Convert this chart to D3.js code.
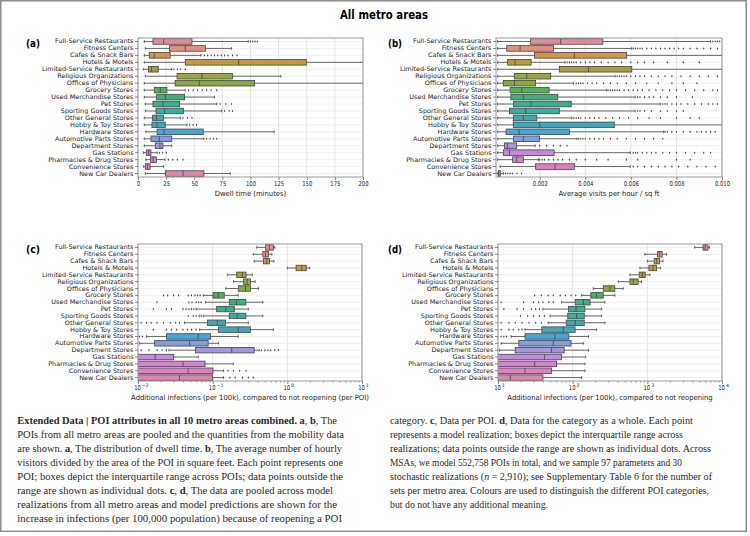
<!DOCTYPE html>
<html>
<head>
<meta charset="utf-8">
<script src="https://cdn.jsdelivr.net/npm/d3@7"></script>
<style>
body { margin: 0; background: #fff; }
svg { display: block; }
</style>
</head>
<body>
<svg id="chart" width="750" height="536"></svg>
<script>
// categories, top to bottom
var categories = ["Full-Service Restaurants", "Fitness Centers", "Cafes & Snack Bars", "Hotels & Motels",
    "Limited-Service Restaurants", "Religious Organizations", "Offices of Physicians", "Grocery Stores",
    "Used Merchandise Stores", "Pet Stores", "Sporting Goods Stores", "Other General Stores",
    "Hobby & Toy Stores", "Hardware Stores", "Automotive Parts Stores", "Department Stores",
    "Gas Stations", "Pharmacies & Drug Stores", "Convenience Stores", "New Car Dealers"];

var palette = ["#e08a9b", "#e3917c", "#d6944a", "#c09a3c", "#a89d38", "#98a83e", "#85ab3f", "#4db359",
    "#3db07e", "#3aae92", "#3aad9c", "#3aabaa", "#3da9b8", "#48a5d6", "#7f9de0", "#a594e0",
    "#c788df", "#dd7ed6", "#df7fc2", "#df85ac"];

// box stats: [low whisker, q1, median, q3, high whisker]
// (a) dwell time, minutes
var dwellStats = [
    [5.6, 13.3, 22.8, 48, 98], [6.5, 28, 42, 60, 83], [5.6, 10, 14.5, 28.6, 56], [5.6, 42, 89.5, 149.6, 260],
    [5, 9.3, 11.9, 18, 30], [6.5, 34.7, 56.9, 84, 127], [5.6, 33, 54.5, 103.7, 260], [5.6, 14.5, 19.8, 25.7, 42],
    [5.6, 16.3, 24.3, 41.5, 68], [6.5, 13.3, 22.2, 37, 70], [6.5, 16, 23.7, 40.5, 74.5], [5.6, 13, 16.3, 22.7, 37.5],
    [5.6, 12.4, 16.9, 24.2, 43.5], [7, 17, 23, 58, 121], [5.6, 11.5, 19, 30, 58.6], [5.6, 15.4, 19.5, 22.2, 30],
    [5, 7.4, 9.5, 11.5, 17], [7, 11, 13.5, 16.5, 24], [5, 6.5, 8.5, 10.8, 22.7], [6.5, 24.5, 40, 58.6, 82]];
var dwellFliers = [
    [100, 102, 104, 106], [], [59, 62, 65, 68, 71, 74, 77, 80, 84, 88], [],
    [32, 35, 38, 42], [], [], [45, 49, 53, 57, 61, 65, 70],
    [], [73, 78, 83], [77, 81, 84], [40, 44, 48],
    [46, 49, 52], [], [61, 64, 67, 70], [],
    [19, 22, 25], [27, 31, 35, 40], [], []];
var dwellTicks = [0, 25, 50, 75, 100, 125, 150, 175, 200];

// (b) average visits per hour / sq ft, in thousandths
var visitStats = [
    [0.15, 1.59, 2.92, 4.77, 9.5], [0.15, 0.55, 1.14, 2.6, 6.04], [0.15, 1.77, 3.52, 5.82, 12], [0.15, 0.59, 0.92, 1.62, 3.11],
    [0.15, 2.86, 4.14, 6.04, 12], [0.15, 0.89, 1.43, 2.48, 5.31], [0.15, 0.4, 0.89, 1.82, 3.48], [0.15, 0.7, 1.21, 2.41, 4.94],
    [0.15, 0.73, 1.28, 2.79, 6.19], [0.15, 0.84, 1.62, 3.38, 7.29], [0.15, 0.67, 1.38, 2.86, 6.19], [0.15, 0.84, 1.28, 1.87, 3.41],
    [0.15, 0.84, 2.0, 5.27, 12], [0.15, 0.52, 1.09, 3.3, 7.44], [0.15, 0.84, 1.28, 1.99, 3.63], [0.15, 0.45, 0.58, 0.99, 1.8],
    [0.15, 0.4, 0.67, 2.63, 5.97], [0.15, 0.81, 0.99, 1.28, 1.94], [0.26, 1.82, 2.67, 3.52, 5.97], [0.12, 0.18, 0.2, 0.27, 0.4]];
var visitFliers = [
    [9.6, 9.7, 9.8, 9.9],
    [6.1, 6.2, 6.3, 6.4, 6.5, 6.7, 6.9, 7.1, 7.3, 7.5, 7.7, 7.9, 8.1, 8.3, 8.6, 8.9, 9.2, 9.5, 9.8],
    [],
    [3.2, 3.3, 3.4, 3.5, 3.6, 3.8, 4.0, 4.2, 4.4, 4.7, 5.0, 5.3, 5.6, 6.0, 6.3, 6.6, 7.0, 7.6, 8.3, 9.0],
    [],
    [5.4, 5.5, 5.6, 5.7, 5.8, 6.0, 6.2, 6.4, 6.6, 6.9, 7.2, 7.5, 7.8, 8.2, 8.6, 9.0, 9.4, 9.8],
    [3.6, 3.7, 3.8, 3.9, 4.1, 4.3, 4.5, 4.8, 5.1, 5.4, 5.8, 6.2, 6.7, 7.2, 7.8, 8.3, 8.9],
    [5.0, 5.1, 5.2, 5.3, 5.4, 5.5, 5.7, 5.9, 6.1, 6.3, 6.5, 6.8, 7.1, 7.4, 7.7, 8.0, 8.4, 8.8, 9.2, 9.6, 9.8],
    [6.3, 6.4, 6.6, 6.8, 7.0, 7.3, 7.6, 8.0, 8.7],
    [7.4, 7.5, 7.6, 7.8, 8.0, 8.2, 8.5, 8.8, 9.1, 9.4, 9.6, 9.8],
    [6.3, 6.4, 6.6, 6.9, 7.3, 7.6, 8.0, 8.3],
    [3.5, 3.6, 3.7, 3.8, 4.0, 4.2, 4.4, 4.6, 4.9, 5.2, 5.5, 5.9, 6.3, 6.8, 7.3, 8.0, 8.6, 9.0],
    [],
    [7.5, 7.6, 7.8, 8.0, 8.3, 8.6, 8.9, 9.1, 9.3, 9.5, 9.7],
    [3.7, 3.8, 3.9, 4.0, 4.2, 4.4, 4.6, 4.8, 5.1, 5.4, 5.8, 6.2, 6.6, 7.0, 7.4],
    [2.0, 2.3, 2.6, 2.9, 3.2],
    [6.1, 6.2, 6.3, 6.5, 6.7, 6.9, 7.1, 7.4, 7.7, 8.0, 8.4, 8.8, 9.2, 9.5],
    [2.0, 2.1, 2.2, 2.4, 2.6, 2.8, 3.0, 3.3, 3.6, 4.0, 4.5, 5.0, 5.8, 6.3, 8.0, 8.6],
    [6.1, 6.3, 6.6, 6.9, 7.2, 7.5, 7.8, 8.1, 8.5, 8.9, 9.3, 9.7],
    [0.5, 0.6, 0.7, 0.8, 1.0, 1.2]];
var visitTicks = [2, 4, 6, 8, 10];
var visitTickLabels = ["0.002", "0.004", "0.006", "0.008", "0.010"];

// (c) additional infections per 100k, per POI
var poiStats = [
    [0.39, 0.51, 0.575, 0.65, 0.68], [0.35, 0.47, 0.51, 0.56, 0.62], [0.36, 0.48, 0.53, 0.575, 0.66], [1.0, 1.31, 1.56, 1.79, 2.0],
    [0.157, 0.21, 0.25, 0.28, 0.34], [0.19, 0.26, 0.29, 0.32, 0.37], [0.15, 0.22, 0.275, 0.32, 0.41], [0.075, 0.101, 0.119, 0.143, 0.22],
    [0.08, 0.167, 0.209, 0.278, 0.47], [0.06, 0.113, 0.15, 0.195, 0.3], [0.075, 0.167, 0.213, 0.278, 0.47], [0.042, 0.085, 0.115, 0.149, 0.3],
    [0.067, 0.119, 0.22, 0.32, 0.65], [0.013, 0.024, 0.064, 0.094, 0.22], [0.0105, 0.0167, 0.049, 0.087, 0.12], [0.026, 0.059, 0.18, 0.36, 0.42],
    [0.002, 0.005, 0.017, 0.03, 0.064], [0.002, 0.006, 0.04, 0.079, 0.189], [0.002, 0.006, 0.047, 0.101, 0.14], [0.002, 0.006, 0.036, 0.1, 0.14]];
var poiFliers = [
    [], [], [], [], [], [], [],
    [0.022, 0.025, 0.03, 0.035, 0.047, 0.052, 0.058, 0.063, 0.068],
    [0.018, 0.048, 0.053, 0.06, 0.065, 0.07],
    [0.016, 0.024, 0.028, 0.04, 0.044, 0.048, 0.052, 0.056],
    [0.047, 0.055, 0.06, 0.066, 0.07],
    [0.011, 0.013, 0.015, 0.018, 0.022, 0.027, 0.032, 0.036],
    [0.016, 0.024, 0.028, 0.033, 0.04, 0.046, 0.052, 0.06],
    [0.0105, 0.0115],
    [],
    [0.011, 0.014, 0.018, 0.021, 0.024, 0.45, 0.5, 0.55, 0.6, 0.68, 0.76],
    [],
    [],
    [0.16, 0.19, 0.23, 0.28],
    [0.17, 0.2, 0.25, 0.3, 0.35]];
var poiTicks = [0.01, 0.1, 1, 10];
var poiTickExps = ["\u22122", "\u22121", "0", "1"];

// (d) additional infections per 100k, category as a whole
var catStats = [
    [4300, 5570, 5950, 6500, 6830], [927, 1368, 1460, 1580, 1810], [1000, 1236, 1330, 1460, 1620], [795, 1050, 1190, 1330, 1510],
    [585, 778, 853, 937, 1080], [408, 585, 648, 752, 835], [189, 257, 316, 367, 475], [132, 175, 209, 257, 367],
    [71, 108, 139, 171, 270], [40, 88, 111, 146, 244], [50, 86, 113, 143, 244], [47, 82, 108, 143, 270],
    [23, 38.6, 75, 108, 209], [15, 23, 58, 89, 163], [11, 19, 55, 95, 139], [10.5, 17, 52, 77, 163],
    [5, 8, 42, 71, 149], [5, 8, 31, 61, 146], [5, 8, 23, 52, 146], [5, 8, 14.6, 40, 132]];
var catFliers = [
    [], [], [], [], [], [], [],
    [31, 38, 47, 55, 68, 80, 95, 110],
    [11, 22, 30, 35, 40, 48, 55],
    [12, 18, 22, 28, 32, 36],
    [20, 25, 30, 36, 42],
    [11, 14, 17, 21, 26, 32, 38],
    [11, 14, 16, 19, 21],
    [11, 12, 13],
    [], [], [], [], [], []];
var catTicks = [10, 100, 1000, 10000];
var catTickExps = ["1", "2", "3", "4"];

var captionLeft = [
    "*Extended Data | POI attributes in all 10 metro areas combined.* *a*, *b*, The",
    "POIs from all metro areas are pooled and the quantities from the mobility data",
    "are shown. *a*, The distribution of dwell time. *b*, The average number of hourly",
    "visitors divided by the area of the POI in square feet. Each point represents one",
    "POI; boxes depict the interquartile range across POIs; data points outside the",
    "range are shown as individual dots. *c*, *d*, The data are pooled across model",
    "realizations from all metro areas and model predictions are shown for the",
    "increase in infections (per 100,000 population) because of reopening a POI"];
var captionRight = [
    "category. *c*, Data per POI. *d*, Data for the category as a whole. Each point",
    "represents a model realization; boxes depict the interquartile range across",
    "realizations; data points outside the range are shown as individual dots. Across",
    "MSAs, we model 552,758 POIs in total, and we sample 97 parameters and 30",
    "stochastic realizations (_n_ = 2,910); see Supplementary Table 6 for the number of",
    "sets per metro area. Colours are used to distinguish the different POI categories,",
    "but do not have any additional meaning."];
var captionLeftEnds = [337, 344, 342, 343, 343, 333, 337, 342];
var captionRightEnds = [693, 683, 711, 682, 712, 709, 548];

var svg = d3.select('#chart');
var lineCol = '#454545';

// the source figure is squeezed sideways, so texts are narrowed to match
function squeeze(sel, k) {
    sel.each(function() {
        var w = this.getComputedTextLength();
        d3.select(this).attr('textLength', w * k).attr('lengthAdjust', 'spacingAndGlyphs');
    });
}

svg.append('rect')
    .attr('x', 0.75).attr('y', 0.75).attr('width', 745.5).attr('height', 530.5)
    .attr('fill', 'none').attr('stroke', '#8c8c8c').attr('stroke-width', 1.5);

svg.append('text')
    .attr('x', 384).attr('y', 19)
    .attr('text-anchor', 'middle')
    .attr('font-family', 'DejaVu Sans').attr('font-weight', 'bold').attr('font-size', 11.5)
    .attr('textLength', 88).attr('lengthAdjust', 'spacingAndGlyphs')
    .text('All metro areas');

var panels = [
    {id: '(a)', left: 138, right: 363, top: 38, bottom: 177, log: false, domain: [0, 200],
        ticks: dwellTicks, labels: dwellTicks.map(String), stats: dwellStats, fliers: dwellFliers,
        xlabel: 'Dwell time (minutes)'},
    {id: '(b)', left: 496, right: 722, top: 38, bottom: 177, log: false, domain: [0.08, 10],
        ticks: visitTicks, labels: visitTickLabels, stats: visitStats, fliers: visitFliers,
        xlabel: 'Average visits per hour / sq ft'},
    {id: '(c)', left: 138, right: 362, top: 244, bottom: 381, log: true, domain: [0.01, 10],
        ticks: poiTicks, exps: poiTickExps, stats: poiStats, fliers: poiFliers,
        xlabel: 'Additional infections (per 100k), compared to not reopening (per POI)'},
    {id: '(d)', left: 498, right: 722, top: 244, bottom: 381, log: true, domain: [10, 10000],
        ticks: catTicks, exps: catTickExps, stats: catStats, fliers: catFliers,
        xlabel: 'Additional infections (per 100k), compared to not reopening'}
];

panels.forEach(function(p, pi) {
    var x = (p.log ? d3.scaleLog() : d3.scaleLinear()).domain(p.domain).range([p.left, p.right]);
    var y = d3.scaleBand().domain(categories).range([p.top, p.bottom]);
    var bw = y.bandwidth(), bh = bw * 0.8;
    var g = svg.append('g');

    // grid
    g.selectAll('line.vgrid').data(p.ticks).join('line')
        .attr('x1', function(d) { return x(d); }).attr('x2', function(d) { return x(d); })
        .attr('y1', p.top).attr('y2', p.bottom)
        .attr('stroke', '#dedede').attr('stroke-width', 0.8);
    g.selectAll('line.hgrid').data(categories).join('line')
        .attr('x1', p.left).attr('x2', p.right)
        .attr('y1', function(d) { return y(d) + bw / 2; }).attr('y2', function(d) { return y(d) + bw / 2; })
        .attr('stroke', '#e6e6e6').attr('stroke-width', 0.6);

    var clipId = 'clip' + pi;
    g.append('clipPath').attr('id', clipId).append('rect')
        .attr('x', p.left).attr('y', p.top).attr('width', p.right - p.left).attr('height', p.bottom - p.top);

    var plot = g.append('g').attr('clip-path', 'url(#' + clipId + ')');
    var rows = plot.selectAll('g.row').data(p.stats).join('g')
        .attr('transform', function(d, i) { return 'translate(0,' + (y(categories[i]) + bw / 2) + ')'; });

    // whiskers
    rows.append('line')
        .attr('x1', function(d) { return x(d[0]); }).attr('x2', function(d) { return x(d[1]); })
        .attr('stroke', lineCol).attr('stroke-width', 0.8);
    rows.append('line')
        .attr('x1', function(d) { return x(d[3]); }).attr('x2', function(d) { return x(d[4]); })
        .attr('stroke', lineCol).attr('stroke-width', 0.8);
    // caps
    [0, 4].forEach(function(k) {
        rows.append('line')
            .attr('x1', function(d) { return x(d[k]); }).attr('x2', function(d) { return x(d[k]); })
            .attr('y1', -bh / 4).attr('y2', bh / 4)
            .attr('stroke', lineCol).attr('stroke-width', 0.8);
    });
    // boxes
    rows.append('rect')
        .attr('x', function(d) { return x(d[1]); })
        .attr('width', function(d) { return x(d[3]) - x(d[1]); })
        .attr('y', -bh / 2).attr('height', bh)
        .attr('fill', function(d, i) { return palette[i]; })
        .attr('stroke', lineCol).attr('stroke-width', 0.8);
    rows.append('line')
        .attr('x1', function(d) { return x(d[2]); }).attr('x2', function(d) { return x(d[2]); })
        .attr('y1', -bh / 2).attr('y2', bh / 2)
        .attr('stroke', lineCol).attr('stroke-width', 0.8);
    // fliers
    rows.each(function(d, i) {
        d3.select(this).selectAll('path.flier').data(p.fliers[i]).join('path')
            .attr('d', function(v) {
                var cx = x(v);
                return 'M' + cx + ',-1.3L' + (cx + 0.7) + ',0L' + cx + ',1.3L' + (cx - 0.7) + ',0Z';
            })
            .attr('fill', '#3a3a3a');
    });

    // frame
    g.append('rect')
        .attr('x', p.left).attr('y', p.top).attr('width', p.right - p.left).attr('height', p.bottom - p.top)
        .attr('fill', 'none').attr('stroke', '#999').attr('stroke-width', 1);

    // y axis
    var ya = g.append('g').attr('transform', 'translate(' + p.left + ',0)')
        .call(d3.axisLeft(y).tickSize(3).tickPadding(1.5));
    ya.select('.domain').remove();
    ya.selectAll('line').attr('stroke', '#555').attr('stroke-width', 0.7);
    ya.selectAll('text').attr('font-family', 'DejaVu Sans').attr('font-size', 6.2).attr('fill', '#222');
    squeeze(ya.selectAll('text'), 1.05);

    // x axis
    var xa = g.append('g').attr('transform', 'translate(0,' + p.bottom + ')')
        .call(d3.axisBottom(x).tickValues(p.ticks).tickSize(3).tickPadding(1.5)
            .tickFormat(function(d, i) { return p.log ? '10' : p.labels[i]; }));
    xa.select('.domain').remove();
    xa.selectAll('line').attr('stroke', '#555').attr('stroke-width', 0.7);
    xa.selectAll('text').attr('font-family', 'DejaVu Sans').attr('font-size', 6.6).attr('fill', '#222');
    squeeze(xa.selectAll('.tick text'), 0.8);
    if (p.log) {
        // base "10" shifted left, exponent set as its own small text to the right
        xa.selectAll('.tick text').attr('x', -1);
        xa.selectAll('.tick').append('text')
            .attr('x', 3.4).attr('y', 6.4)
            .attr('font-family', 'DejaVu Sans').attr('font-size', 4.6).attr('fill', '#222')
            .attr('text-anchor', 'start')
            .text(function(d, i) { return p.exps[i]; });
        var minor = x.ticks().filter(function(t) { return p.ticks.indexOf(t) < 0; });
        var ma = g.append('g').attr('transform', 'translate(0,' + p.bottom + ')')
            .call(d3.axisBottom(x).tickValues(minor).tickSize(1.8).tickFormat(''));
        ma.select('.domain').remove();
        ma.selectAll('line').attr('stroke', '#666').attr('stroke-width', 0.5);
    }

    var xl = g.append('text')
        .attr('x', (p.left + p.right) / 2).attr('y', p.bottom + 18.5)
        .attr('text-anchor', 'middle')
        .attr('font-family', 'DejaVu Sans').attr('font-size', 7.2).attr('fill', '#222')
        .text(p.xlabel);
    squeeze(xl, 0.95);

    g.append('text')
        .attr('x', pi % 2 ? 388 : 26).attr('y', p.top + 9)
        .attr('font-family', 'DejaVu Sans').attr('font-weight', 'bold').attr('font-size', 10.5)
        .attr('textLength', 14).attr('lengthAdjust', 'spacingAndGlyphs')
        .text(p.id);
});

// caption
function captionColumn(lines, ends, x0) {
    lines.forEach(function(line, i) {
        var t = svg.append('text')
            .attr('x', x0).attr('y', 423.5 + i * 14.1)
            .attr('font-family', 'Liberation Serif').attr('font-size', 10.2).attr('fill', '#2a2a2a')
            .attr('textLength', ends[i] - x0).attr('lengthAdjust', 'spacingAndGlyphs');
        line.split(/(\*[^*]+\*|_[^_]+_)/).forEach(function(seg) {
            if (!seg) return;
            var ts = t.append('tspan');
            if (seg[0] === '*') ts.attr('font-weight', 'bold').text(seg.slice(1, -1));
            else if (seg[0] === '_') ts.attr('font-style', 'italic').text(seg.slice(1, -1));
            else ts.text(seg);
        });
    });
}
captionColumn(captionLeft, captionLeftEnds, 17.3);
captionColumn(captionRight, captionRightEnds, 390);
</script>
</body>
</html>
